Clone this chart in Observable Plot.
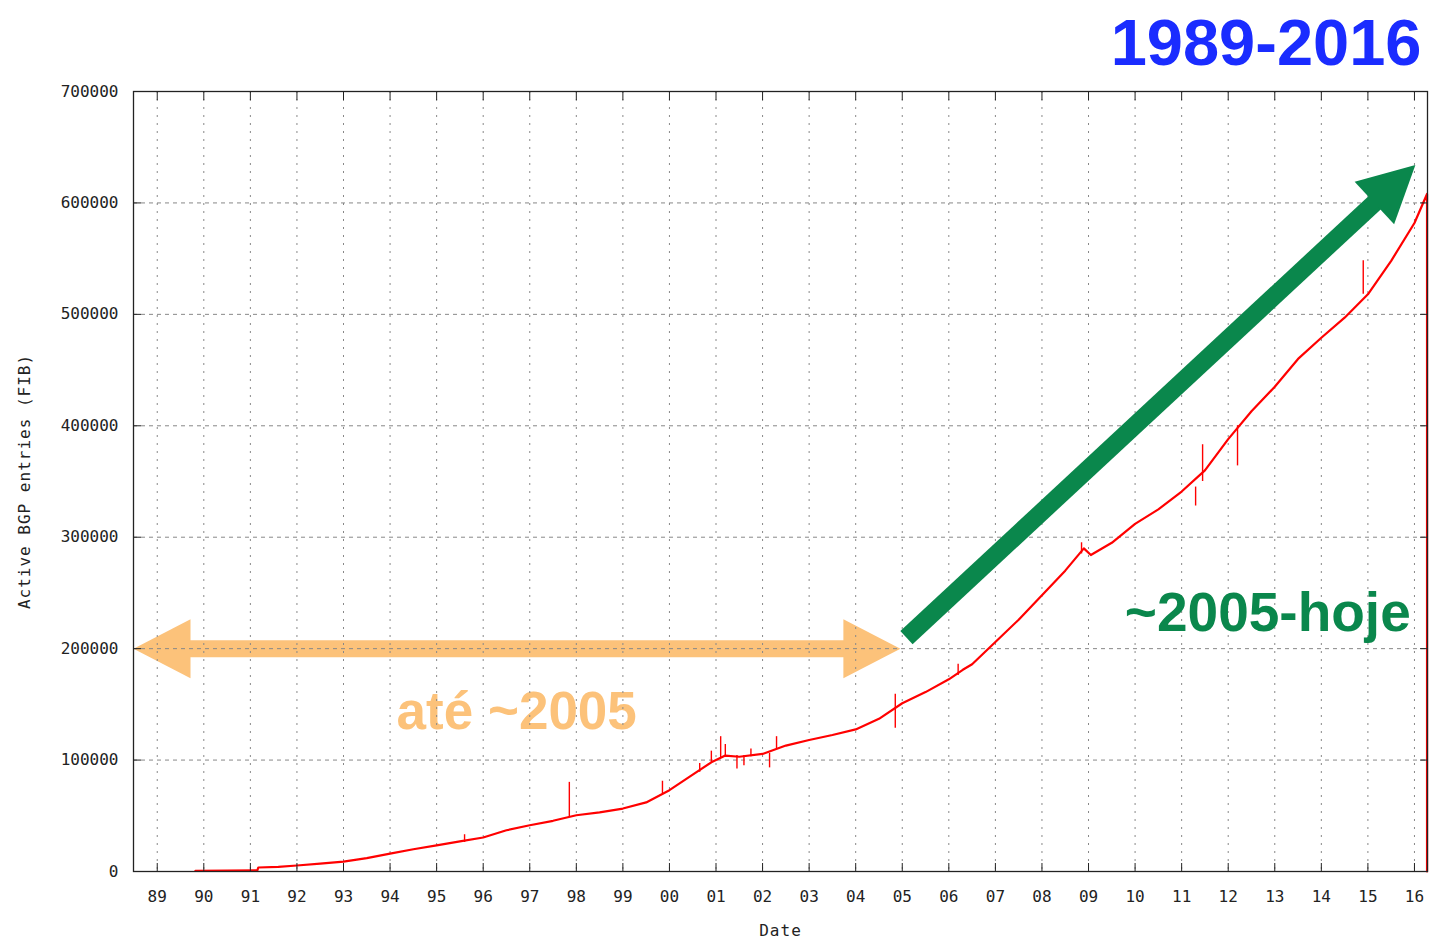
<!DOCTYPE html>
<html><head><meta charset="utf-8">
<script src="https://cdn.jsdelivr.net/npm/d3@7"></script>
<script src="https://cdn.jsdelivr.net/npm/@observablehq/plot@0.6"></script>
<style>
body{margin:0;background:#fff;}
#chart{position:relative;width:1429px;height:940px;}
</style></head><body><div id="chart"></div>
<script>
// ---- data ----
const years = [1989.82, 1990.5, 1991.15, 1991.17, 1991.6, 1992.0, 1992.5, 1993.0, 1993.5, 1994.0, 1994.5, 1995.0, 1995.5, 1996.0, 1996.5, 1997.0, 1997.5, 1998.0, 1998.5, 1999.0, 1999.5, 2000.0, 2000.5, 2000.9, 2001.2, 2001.5, 2002.0, 2002.5, 2003.0, 2003.5, 2004.0, 2004.5, 2005.0, 2005.5, 2006.0, 2006.3, 2006.5, 2007.0, 2007.5, 2008.0, 2008.5, 2008.9, 2009.05, 2009.5, 2010.0, 2010.5, 2011.0, 2011.5, 2012.0, 2012.5, 2013.0, 2013.5, 2014.0, 2014.5, 2015.0, 2015.5, 2016.0, 2016.27, 2016.27];
const entries = [600, 800, 1000, 3600, 4200, 5400, 7000, 8800, 12000, 16000, 20000, 23500, 27000, 30500, 37000, 41500, 45500, 50500, 53000, 56500, 62000, 73000, 87000, 98000, 104000, 103000, 105500, 113000, 118000, 122500, 127500, 137000, 151000, 161000, 172500, 181000, 186000, 206000, 226000, 248000, 270000, 290000, 284000, 295000, 312000, 325000, 341000, 360000, 388000, 413000, 435000, 460000, 479000, 497000, 518000, 548000, 582000, 608000, 0];
const spikeYears = [1995.6, 1997.85, 1999.85, 2000.65, 2000.9, 2001.1, 2001.2, 2001.45, 2001.6, 2001.75, 2002.15, 2002.3, 2004.85, 2006.2, 2008.85, 2011.3, 2011.45, 2012.2, 2014.9];
const spikeLow  = [26000, 49000, 70000, 89000, 98000, 102000, 103000, 92000, 95000, 103000, 93000, 110000, 128500, 176000, 285000, 328000, 350000, 364000, 518000];
const spikeHigh = [33000, 80000, 81000, 97000, 108000, 121000, 114000, 104000, 104000, 110000, 106000, 121000, 159000, 186000, 295000, 345000, 383000, 400000, 548000];

const tickYears = d3.range(1989, 2017);
const tickLabels = tickYears.map(y => String(y % 100).padStart(2, "0"));
const yTicks = [0, 100000, 200000, 300000, 400000, 500000, 600000, 700000];

const titleText = "1989-2016";
const xLabel = "Date";
const yLabel = "Active BGP entries (FIB)";
const orangeLabel = "até ~2005";
const greenLabel = "~2005-hoje";
const orangeLabelPos = [1996.72, 128000];
const greenLabelPos = [2012.85, 216000];
const orangeArrowValue = 200000;
const orangeArrowTips = [1988.49, 2004.96];
const greenArrowFrom = [2005.09, 209900];
const greenArrowTo = [2016.02, 634100];

// ---- layout ----
const W = 1429, H = 940, mL = 133, mR = 2, mT = 91, mB = 69;
const xDomain = [1988.49, 2016.28], yDomain = [0, 700000];
const xs = d3.scaleLinear(xDomain, [mL, W - mR]);
const ys = d3.scaleLinear(yDomain, [H - mB, mT]);

const ORANGE = "#fcc27a", GREEN = "#0a874c", RED = "#ff0000";
const head = (L, Wd) => ({draw(ctx) { ctx.moveTo(0, 0); ctx.lineTo(-L, -Wd / 2); ctx.lineTo(-L, Wd / 2); ctx.closePath(); }});
const oL = 57, oW = 59, gL = 56, gW = 58;

// orange arrow
const oShaft = [
  {x: xs.invert(xs(orangeArrowTips[0]) + oL - 1), y: orangeArrowValue},
  {x: xs.invert(xs(orangeArrowTips[1]) - oL + 1), y: orangeArrowValue}
];
const oHeads = [
  {x: orangeArrowTips[0], y: orangeArrowValue, a: 180},
  {x: orangeArrowTips[1], y: orangeArrowValue, a: 0}
];
// green arrow
const gx0 = xs(greenArrowFrom[0]), gy0 = ys(greenArrowFrom[1]);
const gx1 = xs(greenArrowTo[0]), gy1 = ys(greenArrowTo[1]);
const gAng = Math.atan2(gy1 - gy0, gx1 - gx0);
const gShaft = [
  {x: greenArrowFrom[0], y: greenArrowFrom[1]},
  {x: xs.invert(gx1 - (gL - 1) * Math.cos(gAng)), y: ys.invert(gy1 - (gL - 1) * Math.sin(gAng))}
];
const gHeads = [{x: greenArrowTo[0], y: greenArrowTo[1], a: gAng * 180 / Math.PI}];

const series = years.map((t, i) => ({t, v: entries[i]}));
const spikes = spikeYears.map((t, i) => ({t, lo: spikeLow[i], hi: spikeHigh[i]}));
const mono = "DejaVu Sans Mono, monospace";
const sans = "Liberation Sans, Arial, Helvetica, sans-serif";

const chart = Plot.plot({
  width: W, height: H,
  marginLeft: mL, marginRight: mR, marginTop: mT, marginBottom: mB,
  style: {fontFamily: mono, fontSize: "16px", color: "#222", background: "#fff"},
  x: {domain: xDomain, axis: null},
  y: {domain: yDomain, axis: null},
  marks: [
    Plot.line(oShaft, {x: "x", y: "y", stroke: ORANGE, strokeWidth: 17, strokeLinecap: "butt"}),
    Plot.dot(oHeads, {x: "x", y: "y", rotate: "a", symbol: head(oL, oW), fill: ORANGE, stroke: null, r: 10}),
    Plot.text([orangeLabel], {x: orangeLabelPos[0], y: orangeLabelPos[1], text: d => d, fill: ORANGE, fontFamily: sans, fontWeight: "bold", fontSize: 53, textAnchor: "middle", lineAnchor: "bottom"}),
    Plot.ruleX(tickYears, {x: d => d, stroke: "#888", strokeDasharray: "2,6", strokeWidth: 1}),
    Plot.ruleY(yTicks.slice(1, -1), {y: d => d, stroke: "#888", strokeDasharray: "4,4", strokeWidth: 1}),
    Plot.ruleX(spikes, {x: "t", y1: "lo", y2: "hi", stroke: RED, strokeWidth: 1.4}),
    Plot.line(series, {x: "t", y: "v", stroke: RED, strokeWidth: 2.2}),
    Plot.line(gShaft, {x: "x", y: "y", stroke: GREEN, strokeWidth: 18, strokeLinecap: "butt"}),
    Plot.dot(gHeads, {x: "x", y: "y", rotate: "a", symbol: head(gL, gW), fill: GREEN, stroke: null, r: 10}),
    Plot.text([greenLabel], {x: greenLabelPos[0], y: greenLabelPos[1], text: d => d, fill: GREEN, fontFamily: sans, fontWeight: "bold", fontSize: 55, textAnchor: "middle", lineAnchor: "bottom"}),
    Plot.frame({stroke: "#222", strokeWidth: 1.3}),
    Plot.axisX(tickYears, {anchor: "bottom", tickSize: -8, tickPadding: 27, tickFormat: (d, i) => tickLabels[i], label: null, stroke: "#222"}),
    Plot.axisX(tickYears, {anchor: "top", tickSize: -8, tickFormat: () => "", label: null, stroke: "#222"}),
    Plot.axisY(yTicks, {anchor: "left", tickSize: -8, tickPadding: 23, tickFormat: d => String(d), label: null, stroke: "#222"}),
    Plot.axisY(yTicks, {anchor: "right", tickSize: -8, tickFormat: () => "", label: null, stroke: "#222"}),
    Plot.text([xLabel], {frameAnchor: "bottom", dy: 59, text: d => d, lineAnchor: "middle", fontFamily: mono, fontSize: 16, fill: "#222"}),
    Plot.text([yLabel], {frameAnchor: "left", dx: -109, rotate: -90, text: d => d, lineAnchor: "middle", textAnchor: "middle", fontFamily: mono, fontSize: 16, fill: "#222"}),
    Plot.text([titleText], {frameAnchor: "top-right", dx: -6, dy: -27, text: d => d, textAnchor: "end", lineAnchor: "bottom", fontFamily: sans, fontWeight: "bold", fontSize: 65, fill: "#1a2cff"})
  ]
});
chart.querySelectorAll("text").forEach(t => {
  const ff = t.closest("[font-family]");
  if (!ff || /DejaVu/.test(ff.getAttribute("font-family"))) t.style.letterSpacing = "1px";
});
document.getElementById("chart").appendChild(chart);
</script></body></html>
